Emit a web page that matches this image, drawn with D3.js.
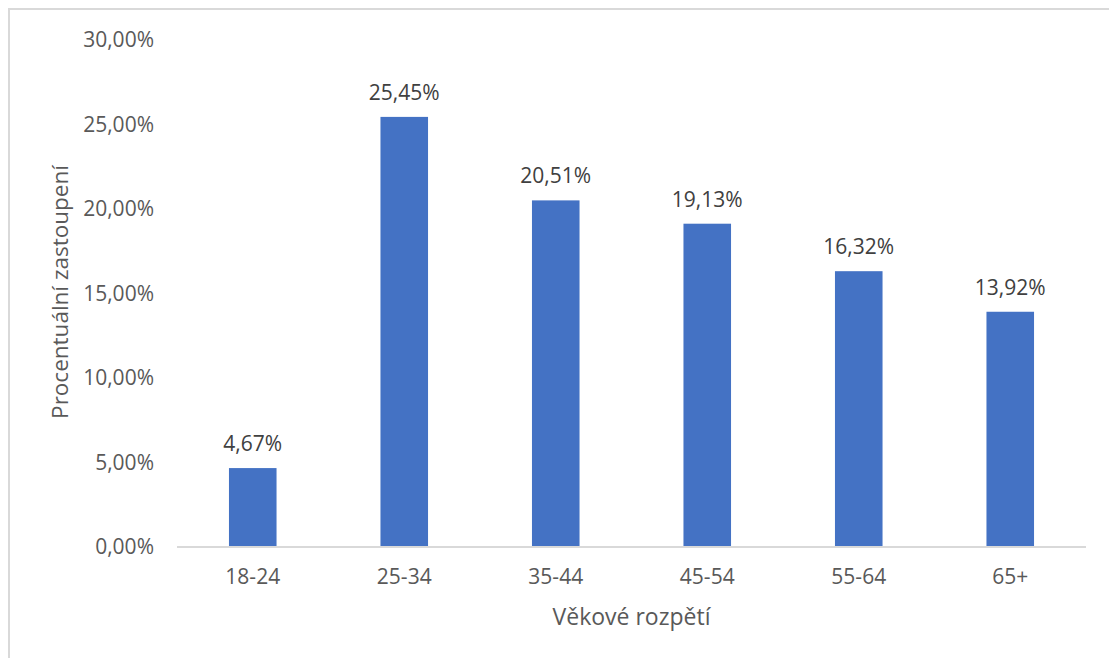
<!DOCTYPE html>
<html>
<head>
<meta charset="utf-8">
<script src="https://cdn.jsdelivr.net/npm/d3@7"></script>
<style>
  html, body { margin: 0; padding: 0; background: #fff; }
  svg { display: block; font-family: "Open Sans", "Noto Sans", sans-serif; }
</style>
</head>
<body>
<svg id="chart" width="1109" height="658"></svg>
<script>
// Age groups and their share of respondents (percent)
const categories = ["18-24", "25-34", "35-44", "45-54", "55-64", "65+"];
const shares = [4.67, 25.45, 20.51, 19.13, 16.32, 13.92];
const yTicks = [0, 5, 10, 15, 20, 25, 30];

const svg = d3.select("#chart");
const plot = { left: 177, right: 1086, top: 40, bottom: 547 };

const fmt = v => v.toFixed(2).replace(".", ",") + "%";

// Outer chart frame
svg.append("rect")
  .attr("x", 9).attr("y", 9)
  .attr("width", 1200).attr("height", 800)
  .attr("fill", "none")
  .attr("stroke", "#d9d9d9")
  .attr("stroke-width", 2);

const x = d3.scaleBand()
  .domain(categories)
  .range([plot.left, plot.right])
  .paddingInner(0.686)
  .paddingOuter(0.343);

const y = d3.scaleLinear()
  .domain([0, 30])
  .range([plot.bottom, plot.top]);

// Y tick labels (no axis line, no gridlines)
const yAxis = d3.axisLeft(y).tickValues(yTicks).tickFormat(fmt).tickSize(0).tickPadding(0);
const gy = svg.append("g")
  .attr("transform", `translate(154,0)`)
  .call(yAxis);
gy.select(".domain").remove();
gy.selectAll("text")
  .attr("fill", "#595959")
  .style("font-size", "21px")
  .style("font-family", "'Open Sans', sans-serif");

// Bars
svg.append("g").selectAll("rect")
  .data(categories)
  .join("rect")
  .attr("x", d => x(d))
  .attr("width", x.bandwidth())
  .attr("y", (d, i) => y(shares[i]))
  .attr("height", (d, i) => y(0) - y(shares[i]))
  .attr("fill", "#4472c4");

// Category axis
const xAxis = d3.axisBottom(x).tickSize(0).tickPadding(0);
const gx = svg.append("g")
  .attr("transform", `translate(0,${plot.bottom})`)
  .call(xAxis);
gx.select(".domain")
  .attr("stroke", "#d9d9d9")
  .attr("stroke-width", 2)
  .attr("d", `M${plot.left},0H${plot.right}`);
gx.selectAll("text")
  .attr("fill", "#595959")
  .attr("dy", null)
  .attr("y", 37)
  .style("font-size", "21px")
  .style("font-family", "'Open Sans', sans-serif");

// Value labels above bars
svg.append("g").selectAll("text")
  .data(categories)
  .join("text")
  .attr("x", d => x(d) + x.bandwidth() / 2)
  .attr("y", (d, i) => y(shares[i]) - 17)
  .attr("text-anchor", "middle")
  .attr("fill", "#404040")
  .style("font-size", "21px")
  .text((d, i) => fmt(shares[i]));

// Axis titles
svg.append("text")
  .attr("x", (plot.left + plot.right) / 2)
  .attr("y", 625)
  .attr("text-anchor", "middle")
  .attr("fill", "#595959")
  .style("font-size", "23px")
  .text("Věkové rozpětí");

svg.append("text")
  .attr("transform", `translate(68,292) rotate(-90)`)
  .attr("text-anchor", "middle")
  .attr("fill", "#595959")
  .style("font-size", "22.5px")
  .text("Procentuální zastoupení");
</script>
</body>
</html>
